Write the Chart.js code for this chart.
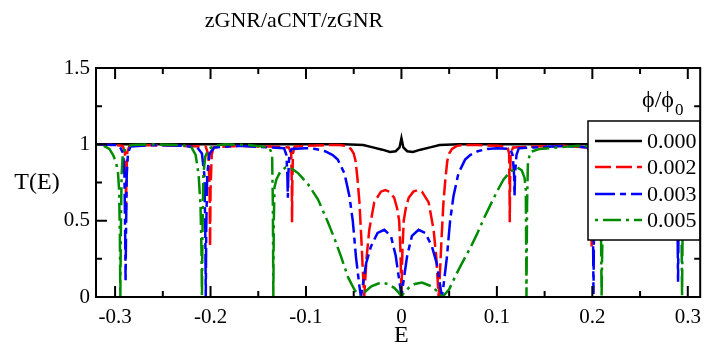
<!DOCTYPE html>
<html>
<head>
<meta charset="utf-8">
<script src="https://cdn.jsdelivr.net/npm/chart.js@4"></script>
<style>
  html, body { margin: 0; padding: 0; background: #fff; }
  #wrap { width: 709px; height: 345px; }
</style>
</head>
<body>
<div id="wrap"><canvas id="c" width="709" height="345"></canvas></div>
<script>
// Transmission T(E) of zGNR/aCNT/zGNR for several magnetic fluxes phi/phi0
const fluxLabels = ['0.000', '0.002', '0.003', '0.005'];

const e000 = [-0.32, -0.06, -0.04, -0.03, -0.02, -0.012, -0.006, -0.002, 0, 0.002, 0.006, 0.012, 0.02, 0.03, 0.04, 0.06, 0.313];
const t000 = [1.0, 1.0, 0.995, 0.98, 0.965, 0.95, 0.955, 0.98, 1.04, 0.98, 0.955, 0.95, 0.965, 0.98, 0.995, 1.0, 1.0];

const e002 = [-0.32, -0.3, -0.292, -0.2898, -0.2888, -0.2885, -0.2882, -0.2872, -0.285, -0.26, -0.23,
  -0.205, -0.2022, -0.201, -0.2005, -0.2, -0.1988, -0.197, -0.17, -0.14,
  -0.118, -0.1155, -0.1149, -0.1146, -0.1143, -0.1137, -0.112, -0.1, -0.08,
  -0.065, -0.058, -0.053, -0.05, -0.048, -0.046, -0.044, -0.042, -0.0405, -0.039, -0.0365, -0.0337,
  -0.0285, -0.0215, -0.017, -0.0125, -0.0076, -0.0045, -0.0024, -0.001, 0,
  0.001, 0.0024, 0.0045, 0.0076, 0.0125, 0.017, 0.0215, 0.0285, 0.0337, 0.0365, 0.039, 0.0405,
  0.042, 0.044, 0.046, 0.048, 0.05, 0.053, 0.058, 0.065, 0.08, 0.1,
  0.111, 0.1128, 0.1132, 0.1135, 0.1138, 0.1144, 0.117, 0.14, 0.17,
  0.196, 0.1978, 0.1988, 0.1993, 0.1998, 0.201, 0.204, 0.23, 0.26,
  0.285, 0.2875, 0.2882, 0.2885, 0.2888, 0.2898, 0.292, 0.313];
const t002 = [1.0, 0.995, 0.99, 0.95, 0.8, 0.57, 0.8, 0.95, 0.99, 0.995, 0.99,
  0.985, 0.93, 0.7, 0.33, 0.7, 0.93, 0.98, 0.99, 0.985,
  0.98, 0.94, 0.75, 0.49, 0.75, 0.94, 0.985, 0.99, 0.995,
  0.995, 0.99, 0.97, 0.94, 0.89, 0.77, 0.62, 0.38, 0.18, 0.0, 0.26, 0.44,
  0.62, 0.69, 0.70, 0.69, 0.65, 0.58, 0.5, 0.3, 0.03,
  0.3, 0.5, 0.58, 0.65, 0.69, 0.70, 0.69, 0.62, 0.44, 0.26, 0.0, 0.18,
  0.38, 0.62, 0.77, 0.89, 0.94, 0.97, 0.99, 0.995, 0.995, 0.99,
  0.985, 0.94, 0.75, 0.49, 0.75, 0.94, 0.98, 0.985, 0.99,
  0.98, 0.93, 0.7, 0.33, 0.7, 0.93, 0.985, 0.99, 0.995,
  0.99, 0.95, 0.8, 0.57, 0.8, 0.95, 0.99, 1.0];

const e003 = [-0.32, -0.3, -0.295, -0.2915, -0.2902, -0.2895, -0.289, -0.2885, -0.2878, -0.2865, -0.284, -0.26, -0.23,
  -0.214, -0.209, -0.2065, -0.2055, -0.205, -0.2045, -0.2035, -0.201, -0.196, -0.17, -0.14,
  -0.123, -0.1205, -0.1195, -0.119, -0.1185, -0.1175, -0.115, -0.1, -0.09, -0.08, -0.072, -0.0667,
  -0.0597, -0.0545, -0.051, -0.0476, -0.044, -0.0424, -0.037, -0.032, -0.025, -0.018, -0.011, -0.006, -0.0014, 0,
  0.0014, 0.006, 0.011, 0.018, 0.025, 0.032, 0.037, 0.0424, 0.044, 0.0476, 0.051, 0.0545, 0.0597,
  0.0667, 0.072, 0.08, 0.09, 0.1, 0.114, 0.1165, 0.118, 0.1185, 0.119, 0.1205, 0.123, 0.14, 0.17,
  0.195, 0.198, 0.2, 0.2007, 0.2012, 0.2017, 0.2025, 0.205, 0.21, 0.23, 0.26,
  0.285, 0.2875, 0.2888, 0.2893, 0.2898, 0.2903, 0.291, 0.2925, 0.295, 0.313];
const t003 = [1.0, 0.995, 0.985, 0.94, 0.8, 0.45, 0.11, 0.45, 0.8, 0.94, 0.985, 0.995, 0.99,
  0.98, 0.94, 0.8, 0.45, 0.0, 0.45, 0.8, 0.94, 0.98, 0.99, 0.98,
  0.975, 0.93, 0.8, 0.65, 0.8, 0.93, 0.97, 0.975, 0.97, 0.955, 0.93, 0.9,
  0.81, 0.66, 0.5, 0.26, 0.07, 0.0, 0.22, 0.33, 0.42, 0.44, 0.40, 0.27, 0.07, 0.0,
  0.07, 0.27, 0.40, 0.44, 0.42, 0.33, 0.22, 0.0, 0.07, 0.26, 0.5, 0.66, 0.81,
  0.9, 0.93, 0.955, 0.97, 0.975, 0.97, 0.93, 0.8, 0.66, 0.8, 0.93, 0.975, 0.98, 0.99,
  0.98, 0.94, 0.8, 0.45, 0.02, 0.45, 0.8, 0.94, 0.98, 0.99, 0.995,
  0.985, 0.94, 0.8, 0.45, 0.1, 0.45, 0.8, 0.94, 0.985, 1.0];

const e005 = [-0.32, -0.312, -0.306, -0.302, -0.299, -0.297, -0.2958, -0.295, -0.2945, -0.294, -0.2932, -0.292, -0.289, -0.283,
  -0.26, -0.235, -0.226, -0.22, -0.2156, -0.2125, -0.2105, -0.2095, -0.209, -0.2085, -0.2075, -0.2055, -0.202, -0.196, -0.185,
  -0.16, -0.145, -0.138, -0.1355, -0.1347, -0.1342, -0.1337, -0.133, -0.131, -0.127, -0.121, -0.115, -0.108,
  -0.098, -0.0875, -0.077, -0.07, -0.063, -0.056, -0.049, -0.043, -0.037, -0.0315, -0.0215, -0.014, -0.0076, -0.003, 0,
  0.003, 0.0076, 0.014, 0.0215, 0.0315, 0.037, 0.043, 0.05, 0.0583, 0.065, 0.072, 0.079, 0.086, 0.093, 0.1,
  0.107, 0.114, 0.121, 0.126, 0.129, 0.1303, 0.131, 0.1316, 0.1325, 0.135, 0.145, 0.165, 0.185,
  0.198, 0.203, 0.2065, 0.2085, 0.2092, 0.2097, 0.2103, 0.2115, 0.2135, 0.2165, 0.222, 0.23, 0.26,
  0.283, 0.289, 0.2915, 0.2928, 0.2935, 0.294, 0.2945, 0.2953, 0.2965, 0.2985, 0.3015, 0.306, 0.313];
const t005 = [1.0, 0.99, 0.97, 0.93, 0.88, 0.82, 0.7, 0.4, 0.0, 0.4, 0.8, 0.93, 0.98, 0.995,
  1.0, 0.995, 0.99, 0.98, 0.93, 0.8, 0.6, 0.3, 0.0, 0.4, 0.8, 0.92, 0.97, 0.99, 1.0,
  0.995, 0.985, 0.975, 0.93, 0.6, 0.0, 0.5, 0.72, 0.77, 0.82, 0.85, 0.84, 0.81,
  0.74, 0.64, 0.49, 0.38, 0.26, 0.13, 0.045, 0.0, 0.04, 0.07, 0.095, 0.085, 0.06, 0.03, 0.005,
  0.03, 0.06, 0.085, 0.095, 0.07, 0.04, 0.0, 0.05, 0.16, 0.24, 0.32, 0.41, 0.51, 0.6, 0.69,
  0.77, 0.82, 0.85, 0.83, 0.78, 0.7, 0.0, 0.6, 0.88, 0.95, 0.97, 0.98, 0.99,
  0.985, 0.97, 0.92, 0.7, 0.35, 0.0, 0.3, 0.6, 0.8, 0.92, 0.98, 0.99, 1.0,
  0.995, 0.98, 0.93, 0.8, 0.4, 0.0, 0.4, 0.7, 0.82, 0.88, 0.93, 0.97, 0.99];

const xTickValues = [-0.3, -0.2, -0.1, 0, 0.1, 0.2, 0.3];
const xTickLabels = ['-0.3', '-0.2', '-0.1', '0', '0.1', '0.2', '0.3'];
const xMinorValues = [-0.25, -0.15, -0.05, 0.05, 0.15, 0.25];
const yTickValues = [0, 0.5, 1, 1.5];
const yTickLabels = ['0', '0.5', '1', '1.5'];
const yMinorValues = [0.25, 0.75, 1.25];

const SERIF = '"Liberation Serif", "Times New Roman", serif';
const colors = ['#000000', '#ff0000', '#0000ff', '#008b00'];
const dashes = [[], [16, 5], [20, 5, 6, 5], [3, 5, 18, 5]];
const seriesE = [e000, e002, e003, e005];
const seriesT = [t000, t002, t003, t005];

const datasets = fluxLabels.map((lab, i) => ({
  label: lab,
  data: seriesE[i].map((e, k) => ({ x: e, y: seriesT[i][k] })),
  showLine: true,
  borderColor: colors[i],
  backgroundColor: colors[i],
  borderWidth: 2.5,
  borderDash: dashes[i],
  pointRadius: 0,
  pointHoverRadius: 0,
  tension: 0,
  order: 4 - i
}));

const decorations = {
  id: 'decorations',
  afterDatasetsDraw(chart) {
    const { ctx, chartArea: a, scales: { x, y } } = chart;
    ctx.save();
    ctx.strokeStyle = '#000';
    ctx.lineWidth = 2;
    const MAJ = 11, MIN = 6;
    ctx.beginPath();
    const xt = (vals, len) => vals.forEach(v => {
      const px = x.getPixelForValue(v);
      ctx.moveTo(px, a.bottom); ctx.lineTo(px, a.bottom - len);
      ctx.moveTo(px, a.top); ctx.lineTo(px, a.top + len);
    });
    const yt = (vals, len) => vals.forEach(v => {
      const py = y.getPixelForValue(v);
      ctx.moveTo(a.left, py); ctx.lineTo(a.left + len, py);
      ctx.moveTo(a.right, py); ctx.lineTo(a.right - len, py);
    });
    xt(xTickValues, MAJ); xt(xMinorValues, MIN);
    yt(yTickValues, MAJ); yt(yMinorValues, MIN);
    ctx.stroke();

    // legend box
    const bx = 588, by = 121, bw = a.right - 588, bh = 119;
    ctx.fillStyle = '#fff';
    ctx.fillRect(bx, by, bw, bh);
    ctx.lineWidth = 1.5;
    ctx.strokeRect(bx, by, bw, bh);
    const rows = [141, 167, 194, 220];
    rows.forEach((ry, i) => {
      ctx.save();
      ctx.strokeStyle = colors[i];
      ctx.lineWidth = 2.5;
      ctx.setLineDash(dashes[i]);
      ctx.beginPath();
      ctx.moveTo(595, ry); ctx.lineTo(642, ry);
      ctx.stroke();
      ctx.restore();
      ctx.fillStyle = '#000';
      ctx.font = '22px ' + SERIF;
      ctx.textAlign = 'left';
      ctx.textBaseline = 'middle';
      ctx.fillText(fluxLabels[i], 647, ry + 1);
    });

    // frame
    ctx.lineWidth = 2;
    ctx.strokeStyle = '#000';
    ctx.strokeRect(a.left, a.top, a.right - a.left, a.bottom - a.top);
    ctx.restore();
  },
  afterDraw(chart) {
    const { ctx, chartArea: a } = chart;
    ctx.save();
    ctx.fillStyle = '#000';
    ctx.textBaseline = 'alphabetic';
    // title
    ctx.font = '22px ' + SERIF;
    ctx.textAlign = 'center';
    ctx.fillText('zGNR/aCNT/zGNR', 294, 27);
    // axis titles
    ctx.font = '24px ' + SERIF;
    ctx.textBaseline = 'middle';
    ctx.fillText('T(E)', 37, (a.top + a.bottom) / 2);
    ctx.textBaseline = 'alphabetic';
    ctx.fillText('E', chart.scales.x.getPixelForValue(0), 342);
    // legend title
    ctx.textAlign = 'left';
    ctx.font = '24px ' + SERIF;
    ctx.fillText('\u03D5/\u03D5', 642, 107);
    const w = ctx.measureText('\u03D5/\u03D5').width;
    ctx.font = '17px ' + SERIF;
    ctx.fillText('0', 642 + w + 1, 115);
    ctx.restore();
  }
};

new Chart(document.getElementById('c'), {
  type: 'scatter',
  data: { datasets },
  options: {
    responsive: false,
    animation: false,
    devicePixelRatio: 1,
    events: [],
    layout: { padding: { top: 68, right: 4, left: 0, bottom: 0 } },
    plugins: { legend: { display: false }, title: { display: false }, tooltip: { enabled: false } },
    scales: {
      x: {
        type: 'linear', min: -0.32, max: 0.313,
        grid: { display: false, drawTicks: false },
        border: { display: false },
        afterBuildTicks: s => { s.ticks = xTickValues.map(v => ({ value: v })); },
        afterFit: s => { s.height = 48; },
        ticks: {
          autoSkip: false, maxRotation: 0, padding: 8, color: '#000',
          font: { family: SERIF, size: 21 },
          callback: (v, i) => xTickLabels[i]
        }
      },
      y: {
        type: 'linear', min: 0, max: 1.5,
        grid: { display: false, drawTicks: false },
        border: { display: false },
        afterBuildTicks: s => { s.ticks = yTickValues.map(v => ({ value: v })); },
        afterFit: s => { s.width = 96; },
        ticks: {
          autoSkip: false, padding: 6, color: '#000',
          font: { family: SERIF, size: 21 },
          callback: (v, i) => yTickLabels[i]
        }
      }
    }
  },
  plugins: [decorations]
});
</script>
</body>
</html>
